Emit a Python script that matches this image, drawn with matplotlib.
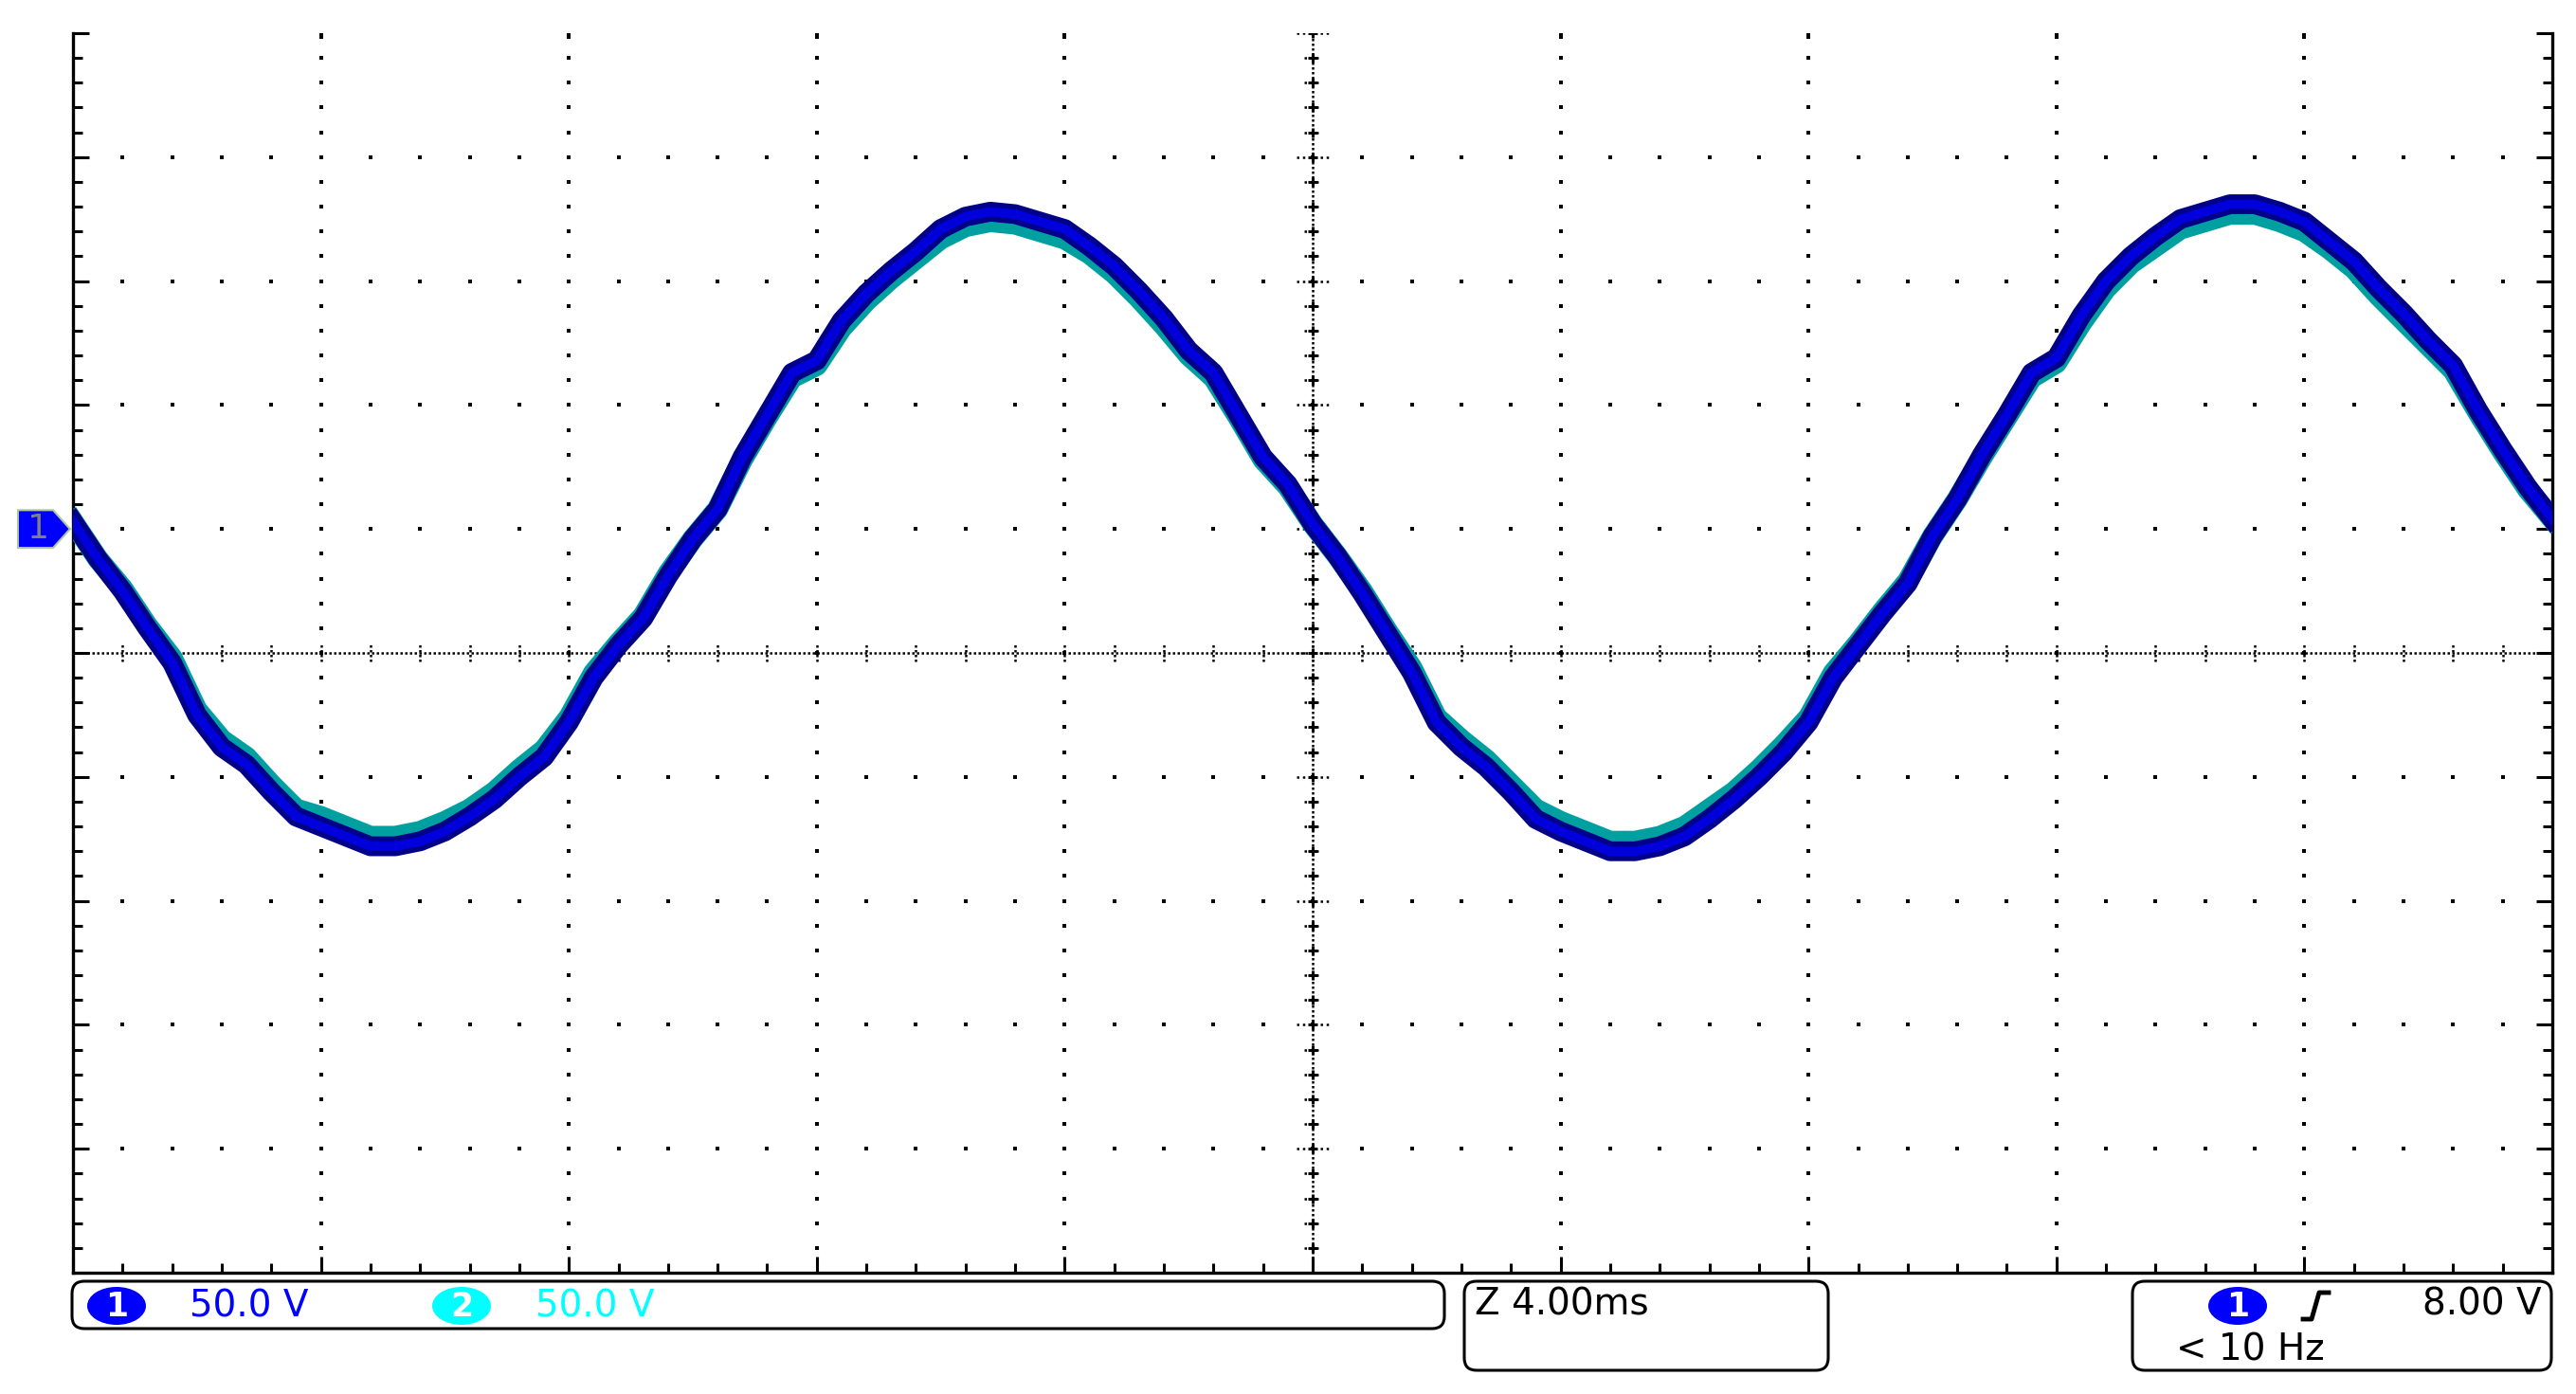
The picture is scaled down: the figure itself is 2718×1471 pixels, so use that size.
import numpy as np
import matplotlib
matplotlib.use("Agg")
import matplotlib.pyplot as plt
from matplotlib.patches import FancyBboxPatch, Ellipse, Polygon

# scope settings (from the status bar)
ch1_scale = "50.0 V"
ch2_scale = "50.0 V"
timebase = "Z 4.00ms"
trig_level = "8.00 V"
trig_freq = "< 10 Hz"

# samples, every 0.4 ms over 40 ms, volts vs. ch1 ground
ch1_v = [3, -12, -25, -40, -54, -75, -88, -95, -106, -116,
         -120, -124, -128, -128, -126, -122, -116, -109, -100, -92,
         -78, -60, -47, -36, -19, -4, 8, 29, 46, 63,
         68, 84, 95, 104, 112, 121, 126, 128, 127, 124,
         121, 114, 106, 96, 85, 72, 63, 46, 29, 18,
         2, -11, -26, -42, -58, -78, -88, -96, -106, -117,
         -122, -126, -130, -130, -128, -124, -117, -109, -100, -90,
         -78, -60, -47, -34, -22, -3, 12, 30, 46, 63,
         69, 86, 100, 110, 118, 125, 128, 131, 131, 128,
         124, 116, 108, 97, 87, 76, 66, 48, 32, 17, 4]
ch2_v = [3, -12, -24, -39, -52, -73, -85, -92, -103, -113,
         -116, -120, -124, -124, -122, -118, -113, -106, -97, -89,
         -76, -58, -46, -35, -18, -4, 8, 28, 45, 61,
         66, 81, 92, 101, 109, 117, 122, 124, 123, 120,
         117, 111, 103, 93, 82, 70, 61, 45, 28, 17,
         2, -11, -25, -41, -56, -76, -85, -93, -103, -113,
         -118, -122, -126, -126, -124, -120, -113, -106, -97, -87,
         -76, -58, -46, -33, -21, -3, 12, 29, 45, 61,
         67, 83, 97, 107, 114, 121, 124, 127, 127, 124,
         120, 113, 105, 94, 84, 74, 64, 47, 31, 16, 4]
t_ms = np.linspace(0, 40, len(ch1_v))

W, H = 2718, 1471
fig = plt.figure(figsize=(W / 100, H / 100), dpi=100)
ax = fig.add_axes([77 / W, 1 - 1343 / H, (2693 - 77) / W, (1343 - 35) / H])
ax.set_xlim(0, 40)
ax.set_ylim(-300, 200)   # ch1 ground sits one division above centre

# graticule
xmaj = [4, 8, 12, 16, 24, 28, 32, 36]
ymaj = [-250, -200, -150, -100, 0, 50, 100, 150]
yminor = np.arange(-290, 201, 10)
xminor = np.arange(0.8, 39.3, 0.8)
for xv in xmaj:
    ax.scatter(np.full(len(yminor), xv), yminor, s=7, marker='s', c='black', linewidths=0, zorder=1)
    ax.scatter([xv], [198.5], s=7, marker='s', c='black', linewidths=0, zorder=1, clip_on=False)
for yv in ymaj:
    ax.scatter(xminor, np.full(len(xminor), yv), s=7, marker='s', c='black', linewidths=0, zorder=1)

# centre cross
ax.plot([20, 20], [-300, 200], ls=(0, (1, 1)), lw=1.8, color='black', zorder=1)
ax.plot([0, 40], [-50, -50], ls=(0, (1, 1)), lw=1.8, color='black', zorder=1)
for yv in yminor:
    half = 0.26 if yv % 50 == 0 else 0.14
    ax.hlines(yv, 20 - half, 20 + half, linestyles=(0, (1, 1.5)), lw=1.8, color='black', zorder=1)
    ax.plot(20, yv, marker='+', ms=7, mew=2.2, color='black', zorder=1)
for xv in xminor:
    ax.vlines(xv, -53.5, -46.5, lw=1.8, linestyles=(0, (1, 1)), color='black', zorder=1)

# border
ax.set_xticks(np.arange(0, 40.1, 4))
ax.set_xticks(np.arange(0, 40.1, 0.8), minor=True)
ax.set_yticks(np.arange(-300, 201, 50))
ax.set_yticks(np.arange(-300, 201, 10), minor=True)
ax.tick_params(which='both', direction='in', labelbottom=False, labelleft=False,
               left=True, right=True, bottom=True, top=False, width=2.2, color='black')
ax.tick_params(which='major', length=12)
ax.tick_params(which='minor', length=7)
ax.spines['top'].set_visible(False)
for side in ['left', 'right', 'bottom']:
    ax.spines[side].set_linewidth(2.4)

# traces
ax.plot(t_ms, ch2_v, color='#00a0a0', lw=16, zorder=3)
ax.plot(t_ms, ch1_v, color='#000088', lw=15, zorder=4)
ax.plot(t_ms, ch1_v, color='#0000dd', lw=7, zorder=5)

# ch1 ground marker
tr = ax.get_yaxis_transform()
mk = Polygon([(-0.0222, 7.6), (-0.0080, 7.6), (-0.0012, 0), (-0.0080, -7.6), (-0.0222, -7.6)],
             closed=True, transform=tr, facecolor='#0000ff', edgecolor='#b0c8a0', lw=1.5, clip_on=False)
ax.add_patch(mk)
ax.text(-0.0140, 0, "1", transform=tr, color='#808080', fontsize=26, ha='center', va='center')

# status bar
inch = fig.dpi_scale_trans
def px(x, y):
    return x / 100, (H - y) / 100

def box(x0, y0, x1, y1):
    a = px(x0, y1)
    fig.add_artist(FancyBboxPatch(a, (x1 - x0) / 100, (y1 - y0) / 100,
                                  boxstyle="round,pad=0,rounding_size=0.13",
                                  transform=inch, facecolor='none', edgecolor='black', lw=2.2))

def badge(cx, cy, label, col):
    fig.add_artist(Ellipse(px(cx, cy), 0.62, 0.40, transform=inch, facecolor=col, edgecolor='none'))
    fig.text(*px(cx, cy + 1), label, transform=inch, color='white', fontsize=25,
             ha='center', va='center', fontweight='bold')

box(76, 1352, 1524, 1402)
box(1545, 1352, 1929, 1446)
box(2250, 1352, 2692, 1446)

badge(123, 1378, "1", '#0000ff')
fig.text(*px(200, 1378), ch1_scale, transform=inch, color='#0000ff', fontsize=28, va='center')
badge(487, 1378, "2", '#00ffff')
fig.text(*px(565, 1378), ch2_scale, transform=inch, color='#00ffff', fontsize=28, va='center')

fig.text(*px(1556, 1376), timebase, transform=inch, color='black', fontsize=28, va='center')

badge(2361, 1378, "1", '#0000ff')
tx, ty = zip(px(2430, 1392), px(2439, 1392), px(2447, 1364), px(2457, 1364))
fig.add_artist(plt.Line2D(tx, ty, transform=inch, color='black', lw=3.5))
fig.text(*px(2682, 1377), trig_level, transform=inch, color='black', fontsize=28, va='center', ha='right')
fig.text(*px(2296, 1424), trig_freq, transform=inch, color='black', fontsize=28, va='center')

fig.savefig('out.png', dpi=100)
